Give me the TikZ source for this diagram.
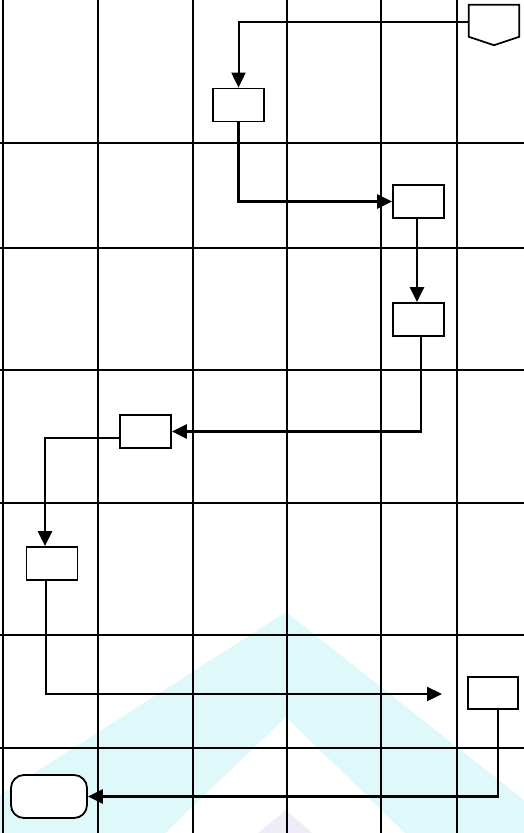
\documentclass[tikz,border=0pt]{standalone}
\usetikzlibrary{arrows.meta,calc}
\definecolor{wmcyan}{HTML}{DFF8FA}
\definecolor{wmlav}{HTML}{EFECF8}
\begin{document}
\begin{tikzpicture}[x=1pt,y=-1pt,
  gridline/.style={line width=2.3pt,black},
  procbox/.style={draw,line width=1.8pt,fill=white,minimum width=51pt,minimum height=33pt,inner sep=0pt},
  flow/.style={line width=2.4pt,black,-{Triangle[length=15pt,width=14pt]}}]
\useasboundingbox (0,0) rectangle (524,833);
% watermark
\fill[wmcyan] (286,612) -- (524,800) -- (524,833) -- (405,833) -- (286,717) -- (165,833) -- (0,833) -- (0,795) -- cycle;
\fill[wmlav] (286,810) -- (312,833) -- (258,833) -- cycle;
% grid
\foreach \gx in {3,98,193,287,381,457} \draw[gridline] (\gx,0) -- (\gx,833);
\foreach \gy in {143,248,370,503,635,748} \draw[gridline] (0,\gy) -- (524,\gy);
% nodes
\node[minimum width=50pt,minimum height=40pt,inner sep=0pt] (pent) at (494,25) {};
\draw[line width=1.8pt,fill=white] (pent.north west) -- (pent.north east) -- ($(pent.north east)+(0,32)$) -- (pent.south) -- ($(pent.north west)+(0,32)$) -- cycle;
\node[procbox] (box1) at (238.5,105) {};
\node[procbox] (box2) at (418.5,201.5) {};
\node[procbox] (box3) at (418.5,319.5) {};
\node[procbox] (box4) at (145.5,431.5) {};
\node[procbox] (box5) at (52,563.5) {};
\node[procbox,minimum width=50pt,minimum height=32pt] (box6) at (493,693) {};
\node[draw,line width=1.8pt,fill=white,rounded corners=13pt,minimum width=76pt,minimum height=43pt,inner sep=0pt] (term) at (49,796.5) {};
\coordinate (end6) at (442,694);
% connectors
\draw[flow,line width=2pt] ([yshift=3pt]pent.west) -| (box1.north);
\draw[flow] (box1.south) |- (box2.west);
\draw[flow] ([xshift=-1.5pt]box2.south) -- ([xshift=-1.5pt]box3.north);
\draw[flow] ([xshift=2.5pt]box3.south) |- (box4.east);
\draw[flow] ([yshift=-6.5pt]box4.west) -| ([xshift=-7pt]box5.north);
\draw[flow] ([xshift=-6pt]box5.south) |- (end6);
\draw[flow] ([xshift=5pt]box6.south) |- (term.east);
\end{tikzpicture}
\end{document}
